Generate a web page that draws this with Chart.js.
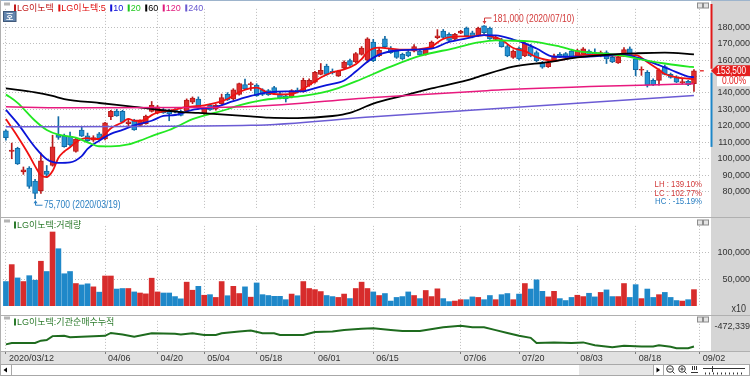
<!DOCTYPE html>
<html>
<head>
<meta charset="utf-8">
<title>LG이노텍</title>
<script src="https://cdn.jsdelivr.net/npm/chart.js@4.4.1/dist/chart.umd.min.js"></script>
<style>
  html, body { margin: 0; padding: 0; background: #fff; }
  body { width: 750px; height: 376px; position: relative; overflow: hidden; }
  canvas { position: absolute; left: 0; }
  #priceChart { top: 0; }
  #volChart { top: 217px; }
  #instChart { top: 315px; }
</style>
</head>
<body>
<canvas id="priceChart" width="750" height="217"></canvas>
<canvas id="volChart" width="750" height="98"></canvas>
<canvas id="instChart" width="750" height="61"></canvas>
<script>
// trading days shown (last slot 09/02 has no candle yet)
const dates = [
  '03/12','03/13','03/16','03/17','03/18','03/19','03/20','03/23','03/24','03/25','03/26','03/27','03/30','03/31',
  '04/01','04/02','04/03','04/06','04/07','04/08','04/09','04/10','04/13','04/14','04/16','04/17','04/20','04/21','04/22','04/23','04/24','04/27','04/28','04/29',
  '05/04','05/06','05/07','05/08','05/11','05/12','05/13','05/14','05/15','05/18','05/19','05/20','05/21','05/22','05/25','05/26','05/27','05/28','05/29',
  '06/01','06/02','06/03','06/04','06/05','06/08','06/09','06/10','06/11','06/12','06/15','06/16','06/17','06/18','06/19','06/22','06/23','06/24','06/25','06/26','06/29','06/30',
  '07/01','07/02','07/03','07/06','07/07','07/08','07/09','07/10','07/13','07/14','07/15','07/16','07/17','07/20','07/21','07/22','07/23','07/24','07/27','07/28','07/29','07/30','07/31',
  '08/03','08/04','08/05','08/06','08/07','08/10','08/11','08/12','08/13','08/14','08/18','08/19','08/20','08/21','08/24','08/25','08/26','08/27','08/28','08/31',
  '09/01','09/02'
];

const openP = [117000,104500,106300,92000,94400,86500,80600,92500,96000,114600,
  113800,113600,104400,117500,113900,111300,115100,112000,125600,129000,
  128800,121400,123100,120300,121300,128800,127900,129700,129600,129400,
  128800,129300,134400,136300,127500,132500,130100,133500,139100,136300,
  139100,145100,145000,144800,141900,141400,143200,139500,138200,137600,
  141800,141000,144800,146600,151300,156400,153200,150400,155100,159700,
  158800,163500,160000,171000,162600,172900,167300,165400,163500,165000,
  165400,165400,163500,167300,173600,177600,175700,172700,176300,179400,
  176600,174800,180800,179400,172500,172000,168200,161600,167300,162500,
  168200,164500,158300,156000,159700,163500,163900,165400,162500,163500,
  165400,164700,162500,164500,161600,158300,162500,166900,160700,153800,
  152600,147600,147600,156000,151300,149400,146300,147000,145700];
const highP = [117600,109500,107000,95000,95200,87500,103500,95900,114300,125600,
  115000,116200,112500,119200,115600,114000,116000,122200,129400,130000,
  129500,124300,124000,123600,126500,134800,132400,130600,130100,130500,
  129600,136400,137600,137600,131400,133200,133000,139300,140200,142600,
  146000,148500,146600,145600,142600,142100,144100,140500,138800,142000,
  143000,149000,148600,153200,157900,157500,154600,153800,159600,160600,
  164600,168200,173600,172600,167200,174400,168200,166200,164200,165800,
  169400,166000,166800,171600,178500,178600,176600,176200,178100,180100,
  177600,180000,181000,180100,174600,173200,169000,166200,168000,171000,
  169600,165600,159200,159500,163600,164600,164600,166600,166600,167600,
  166200,166900,165500,165600,162600,162200,167600,168000,161600,155900,
  153600,148600,154600,157000,152100,150500,148500,147600,154200];
const lowP = [111300,100000,96500,90500,82000,75700,79000,88500,95500,111800,
  107000,107600,104000,113500,110400,110500,111800,111500,123800,125800,
  121800,119400,117300,119600,121000,128400,127400,127600,123100,127900,
  126000,128900,133500,130400,127000,129400,129500,133000,135400,135900,
  138600,142000,141500,138000,138400,138500,139500,136400,134500,137000,
  140000,140500,144000,146000,151000,150800,151500,150000,154500,156300,
  158400,163000,158600,159000,162000,167600,164000,161000,160300,162000,
  165000,162600,163000,167000,172900,173400,171500,172000,176000,174500,
  173500,174400,176000,172500,172000,167800,162000,161000,160000,162000,
  162000,159000,155000,155500,159000,161400,161000,161000,162000,163000,
  162600,162500,162000,157900,158400,158000,162000,162000,150400,150700,
  143600,144500,144800,151000,149000,146300,145500,144500,141000];
const closeP = [112800,105200,96900,93300,83200,79000,98800,90500,107200,113000,
  107300,108400,111900,113800,111000,112800,112300,121800,128800,126100,
  122200,122400,117600,123100,126000,132500,131600,127900,127200,128500,
  126400,135700,136900,130700,130700,129700,132500,137200,135700,141900,
  145700,142500,145700,138200,139100,139000,140000,136900,136300,141400,
  140600,147600,147600,152600,153800,151300,152300,153200,158800,156900,
  163900,167300,172900,159700,166000,168200,164500,161600,160700,162500,
  168200,163100,166300,171000,174800,173800,172000,175600,177600,174800,
  174000,179400,176600,172900,173800,168200,162500,165400,160700,170100,
  162500,159700,155600,158300,162500,161600,161600,161600,165800,166900,
  163100,163900,164500,160700,158800,161600,166300,162500,154100,154300,
  144800,145100,154100,151300,149400,146600,146700,145100,153500];

// volume, shown in units of x10 shares
const volume = [45900,77600,52700,45900,56900,48400,83900,64700,138600,107300,
  60500,64700,42200,39600,41700,36000,26100,56300,56300,31900,
  32900,32900,26500,24500,22900,52200,26500,24500,24500,17800,
  13600,44800,29700,37000,20300,21400,16200,45900,19400,37000,
  23500,36000,16700,43300,21400,19800,18300,18300,12000,22500,
  19400,45900,32900,30800,27200,19800,17800,16200,22500,14100,
  32900,44800,32900,26500,19800,23500,9400,16200,17800,26500,
  19800,14000,29200,17800,32300,14000,8400,9400,12000,12000,
  17200,16200,12000,19800,12000,21400,23500,12000,22500,42200,
  31900,49100,27600,17200,27600,14000,10400,16200,20300,17800,
  24000,17200,25600,30300,17800,17800,42200,16200,40100,14000,
  31900,16200,21400,25600,16200,10400,9400,12000,30800];

// moving averages: [day index, value]
const ma5 = [[0,124100],[2,113500],[4,102000],[5,95500],[6,90000],[7,88800],[8,92500],[9,100500],[10,104400],
  [11,107000],[12,110000],[13,112000],[14,112500],[15,112000],[16,112000],[17,115000],[18,118500],[19,120500],
  [20,122200],[21,124300],[22,123100],[23,123100],[24,124100],[25,126500],[26,128000],[27,128800],[28,129200],
  [29,129800],[31,131500],[34,132500],[36,133900],[38,136300],[40,140600],[42,143000],[43,143200],[45,140000],
  [47,139100],[49,139400],[51,142500],[52,144800],[54,149400],[56,152600],[58,154300],[60,157500],[61,160500],
  [62,165000],[64,167500],[66,167000],[68,166300],[70,166300],[72,167300],[73,168200],[75,172900],[78,174400],
  [80,174400],[82,175200],[84,173500],[85,172300],[87,167300],[89,165400],[91,161800],[94,159700],[96,160700],
  [99,163100],[102,163100],[105,162500],[108,163000],[110,158800],[112,154000],[113,151500],[115,149500],
  [116,149000],[118,148400]];
const ma10 = [[0,129700],[2,121500],[5,107000],[7,99700],[9,97500],[11,97800],[13,101600],[14,106000],[16,111000],
  [18,115100],[20,117500],[22,120300],[25,123100],[27,126000],[29,126600],[32,129700],[36,131600],[39,135000],
  [42,138200],[45,140400],[48,141000],[51,141000],[52,141900],[55,144800],[58,147600],[60,153000],[62,159000],
  [64,163300],[67,165800],[70,166300],[73,166900],[76,171000],[79,173200],[82,175200],[84,175000],[87,172500],
  [89,170100],[91,167000],[94,162000],[98,162000],[102,162500],[106,163100],[109,160700],[112,156900],
  [114,154100],[117,150000],[118,149600]];
const ma20 = [[0,139100],[2,134000],[5,123100],[7,117500],[9,114700],[12,112800],[14,110000],[16,107600],
  [18,107500],[21,108700],[23,111000],[25,113800],[28,117500],[30,120700],[32,124100],[38,130100],[40,132500],
  [44,135700],[47,136900],[51,138200],[54,140000],[57,143000],[60,147000],[66,156000],[71,162500],[77,167300],
  [81,170700],[84,172000],[86,171800],[90,171400],[95,168200],[98,165400],[103,163900],[106,162500],
  [110,159700],[113,157900],[117,156000],[118,155700]];
const ma60 = [[0,142800],[5,140400],[8,138200],[10,136300],[16,133900],[22,131600],[30,128400],[33,127900],
  [42,125800],[45,125000],[50,124700],[56,126000],[59,127900],[63,133500],[68,138200],[73,142800],[79,147600],
  [81,149800],[87,156000],[93,158800],[98,161600],[104,163500],[108,164100],[113,164500],[118,163400]];
const ma120 = [[0,131600],[10,131000],[30,131100],[42,131700],[63,137200],[81,141000],[85,141900],[118,145600]];
const ma240 = [[0,119400],[42,120300],[63,125500],[85,130700],[118,138400]];

// institutional net buying, cumulative (shares)
const instCum = [[0,-727900],[1,-708700],[5,-708700],[6,-676300],[7,-668000],[8,-612700],[10,-608000],
  [11,-628300],[14,-616300],[17,-608000],[18,-568300],[20,-588700],[22,-620000],[25,-574300],[29,-580300],
  [30,-588700],[32,-571900],[34,-596000],[36,-596000],[37,-571900],[40,-548000],[42,-536000],[44,-571900],
  [46,-571900],[47,-596000],[51,-596000],[53,-556300],[56,-548000],[58,-528700],[61,-508300],[63,-502300],
  [66,-526300],[68,-540700],[71,-540700],[75,-487900],[78,-468700],[80,-487900],[82,-487900],[84,-528700],
  [86,-568300],[88,-608000],[90,-636700],[91,-708700],[94,-700300],[97,-708700],[99,-700300],[101,-740000],
  [104,-768700],[106,-748300],[109,-756700],[111,-756700],[112,-740000],[114,-760300],[115,-780700],
  [117,-780700],[118,-756700]];

const tickLabels = ['2020/03/12','04/06','04/20','05/04','05/18','06/01','06/15','07/06','07/20','08/03','08/18','09/02'];
const priceTicks = [80000,90000,100000,110000,120000,130000,140000,150000,160000,170000,180000];
const volTicks = [50000,100000];
const instTicks = [-472339];
const changePct = '0.00%';
const axisBandLow = 107200;

const SANS = "'Liberation Sans',Arial,sans-serif";
const LEGEND_FONT = "'Liberation Sans','Noto Sans CJK KR',sans-serif";
const GRID = '#bdbdbd';
const AXIS_BG = '#d5d5d5';
const UP = '#e02c2c', UP_EDGE = '#b81b1b', DN = '#2592d3', DN_EDGE = '#136ba5';

const tickIdx = tickLabels.map(t => dates.indexOf(t.slice(-5)));
const fmt = v => v.toLocaleString('en-US');
const isUp = closeP.map((c, i) => c >= openP[i]);
const days = closeP.map((_, i) => i);
const pairs = arr => arr.map(([x, y]) => ({ x, y }));

function xAxis(showLabels) {
  return {
    type: 'linear', min: -0.5, max: 120.75, offset: false,
    afterBuildTicks: s => { s.ticks = tickIdx.map(v => ({ value: v })); },
    afterFit: s => { s.height = showLabels ? 13 : 0; },
    grid: { color: GRID, offset: false, drawTicks: showLabels, tickLength: 3, tickColor: '#7a7a7a', tickBorderDash: [] },
    border: { display: false, dash: [1, 2] },
    ticks: {
      display: showLabels, autoSkip: false, maxRotation: 0, align: 'start', labelOffset: 3, padding: 0,
      color: '#333', font: { family: SANS, size: 9, lineHeight: 1 },
      callback: v => tickLabels[tickIdx.indexOf(v)]
    }
  };
}

function yAxis(min, max, ticks, pad, showGrid) {
  return {
    position: 'right', min, max,
    afterBuildTicks: s => { s.ticks = ticks.map(v => ({ value: v })); },
    afterFit: s => { s.width = 40; },
    grid: { display: showGrid !== false, color: GRID, drawTicks: false },
    border: { display: false, dash: [1, 2] },
    ticks: { crossAlign: 'far', padding: pad, color: '#333', font: { family: SANS, size: 9 }, callback: v => fmt(v) }
  };
}

function baseOptions(x, y, padding) {
  return {
    responsive: false, animation: false, events: [],
    layout: { padding },
    plugins: { legend: { display: false }, tooltip: { enabled: false } },
    scales: { x, y }
  };
}

// condensed text, like the narrow HTS font
function narrowText(ctx, text, x, y, align, size, squeeze) {
  ctx.save();
  ctx.font = `${size}px ${SANS}`;
  ctx.textAlign = align;
  ctx.textBaseline = 'middle';
  ctx.translate(x, y);
  ctx.scale(squeeze, 1);
  ctx.fillText(text, 0, 0);
  ctx.restore();
}

function drawLegend(ctx, items, x0, y) {
  let xx = x0;
  ctx.font = `9px ${LEGEND_FONT}`;
  ctx.textAlign = 'left';
  ctx.textBaseline = 'middle';
  items.forEach(it => {
    ctx.fillStyle = it.color;
    ctx.fillRect(xx, y - 3.5, 2, 7);
    ctx.fillText(it.text, xx + 3, y + 0.5);
    xx += 3 + ctx.measureText(it.text).width + 4.5;
  });
}

function drawPanelIcons(ctx, y) {
  [697.5, 703.5].forEach(bx => {
    ctx.fillStyle = '#e4e4e4';
    ctx.fillRect(bx, y, 5, 5);
    ctx.strokeStyle = '#8c8c8c';
    ctx.lineWidth = 1;
    ctx.strokeRect(bx, y, 5, 5);
  });
  ctx.fillStyle = '#b4b4b4';
  ctx.fillRect(4, y - 0.5, 6, 3);
}

function lineSet(data, color, width, order) {
  return {
    type: 'line', data: pairs(data), borderColor: color, borderWidth: width,
    pointRadius: 0, cubicInterpolationMode: 'monotone', fill: false, order
  };
}

const priceDecor = {
  id: 'priceDecor',
  beforeDraw(chart) {
    const { ctx, chartArea: a } = chart;
    ctx.save();
    ctx.fillStyle = AXIS_BG;
    ctx.fillRect(a.right + 1, 0, chart.width - a.right, chart.height);
    ctx.restore();
  },
  afterDraw(chart) {
    const { ctx, chartArea: a, scales: { x, y } } = chart;
    ctx.save();
    ctx.lineWidth = 1;
    ctx.strokeStyle = '#9db4cc';
    ctx.beginPath(); ctx.moveTo(0, 0.5); ctx.lineTo(chart.width, 0.5); ctx.stroke();
    ctx.strokeStyle = '#b0b0b0';
    ctx.beginPath(); ctx.moveTo(0.5, 0); ctx.lineTo(0.5, chart.height); ctx.stroke();

    drawPanelIcons(ctx, 3);
    drawLegend(ctx, [
      { text: 'LG이노텍', color: '#c01818' },
      { text: 'LG이노텍:5', color: '#e01010' },
      { text: '10', color: '#1010d8' },
      { text: '20', color: '#1fc81f' },
      { text: '60', color: '#000000' },
      { text: '120', color: '#e01a7c' },
      { text: '240', color: '#6a5ad0' }
    ], 14, 8);

    // "호" box
    ctx.fillStyle = '#6385ad';
    ctx.fillRect(3.5, 11.5, 12.5, 10);
    ctx.strokeStyle = '#40597a';
    ctx.strokeRect(3.5, 11.5, 12.5, 10);
    ctx.fillStyle = '#fff';
    ctx.font = "bold 8px 'Noto Sans CJK KR',sans-serif";
    ctx.textAlign = 'center';
    ctx.textBaseline = 'middle';
    ctx.fillText('호', 9.8, 16.8);

    // highest / lowest marks
    const hi = Math.max(...highP), hiIdx = highP.indexOf(hi);
    const lo = Math.min(...lowP), loIdx = lowP.indexOf(lo);
    const hx = Math.round(x.getPixelForValue(hiIdx)) + 0.5, hy = y.getPixelForValue(hi);
    const lx = Math.round(x.getPixelForValue(loIdx)) + 0.5, ly = y.getPixelForValue(lo);
    ctx.lineWidth = 1;
    ctx.strokeStyle = ctx.fillStyle = '#d23a3a';
    ctx.beginPath(); ctx.moveTo(hx, hy - 2); ctx.lineTo(hx, hy - 7.5); ctx.lineTo(hx + 7, hy - 7.5); ctx.stroke();
    ctx.beginPath(); ctx.moveTo(hx - 2, hy - 4.5); ctx.lineTo(hx + 2, hy - 4.5); ctx.lineTo(hx, hy - 1.5); ctx.fill();
    narrowText(ctx, `${fmt(hi)} (2020/${dates[hiIdx]})`, hx + 8.5, hy - 6.5, 'left', 10, 0.85);
    ctx.strokeStyle = ctx.fillStyle = '#2a7fc2';
    ctx.beginPath(); ctx.moveTo(lx, ly + 2); ctx.lineTo(lx, ly + 6.5); ctx.lineTo(lx + 7, ly + 6.5); ctx.stroke();
    ctx.beginPath(); ctx.moveTo(lx - 2, ly + 4.5); ctx.lineTo(lx + 2, ly + 4.5); ctx.lineTo(lx, ly + 1.5); ctx.fill();
    narrowText(ctx, `${fmt(lo)} (2020/${dates[loIdx]})`, lx + 8.5, ly + 6.5, 'left', 10, 0.85);

    // LH / LC / HC
    const last = closeP[closeP.length - 1];
    const pct = v => v.toFixed(2) + '%';
    ctx.fillStyle = '#d23a3a';
    narrowText(ctx, 'LH : ' + pct((hi - lo) / lo * 100), a.right - 8, 185, 'right', 9, 0.87);
    narrowText(ctx, 'LC : ' + pct((last - lo) / lo * 100), a.right - 8, 193.3, 'right', 9, 0.87);
    ctx.fillStyle = '#2a7fc2';
    narrowText(ctx, 'HC : ' + pct((last - hi) / hi * 100), a.right - 8, 201.8, 'right', 9, 0.87);

    // price axis band and current price box
    const py = y.getPixelForValue(last);
    const ax = a.right + 1.5;
    ctx.lineWidth = 2;
    ctx.strokeStyle = '#e01818';
    ctx.beginPath(); ctx.moveTo(ax, 4); ctx.lineTo(ax, py - 2); ctx.stroke();
    ctx.strokeStyle = '#1d86c8';
    ctx.beginPath(); ctx.moveTo(ax, py + 2); ctx.lineTo(ax, y.getPixelForValue(axisBandLow)); ctx.stroke();
    ctx.fillStyle = '#e41e1e';
    ctx.fillRect(x.getPixelForValue(dates.length - 1), py - 0.6, 4, 1.3);
    ctx.beginPath();
    ctx.moveTo(a.right + 1, py); ctx.lineTo(a.right + 7, py - 5.5); ctx.lineTo(chart.width, py - 5.5);
    ctx.lineTo(chart.width, py + 5.5); ctx.lineTo(a.right + 7, py + 5.5); ctx.closePath(); ctx.fill();
    ctx.fillStyle = '#fff';
    ctx.fillRect(a.right + 7, py + 5.5, chart.width - a.right - 7, 10);
    narrowText(ctx, fmt(last), 746, py + 0.5, 'right', 10, 0.82);
    ctx.fillStyle = '#e41e1e';
    narrowText(ctx, changePct, 746, py + 10.5, 'right', 10, 0.85);
    ctx.restore();
  }
};

const volDecor = {
  id: 'volDecor',
  beforeDraw(chart) {
    const { ctx, chartArea: a } = chart;
    ctx.save();
    ctx.fillStyle = AXIS_BG;
    ctx.fillRect(a.right + 1, 0, chart.width - a.right, chart.height);
    ctx.restore();
  },
  afterDraw(chart) {
    const { ctx } = chart;
    ctx.save();
    ctx.strokeStyle = '#b0b0b0';
    ctx.lineWidth = 1;
    ctx.beginPath(); ctx.moveTo(0, 0.5); ctx.lineTo(chart.width, 0.5); ctx.stroke();
    ctx.beginPath(); ctx.moveTo(0.5, 0); ctx.lineTo(0.5, chart.height); ctx.stroke();
    drawPanelIcons(ctx, 3);
    drawLegend(ctx, [{ text: 'LG이노텍:거래량', color: '#2b7a2b' }], 14, 8);
    ctx.fillStyle = '#333';
    narrowText(ctx, 'x10', 746, 92, 'right', 10, 0.9);
    ctx.restore();
  }
};

const instDecor = {
  id: 'instDecor',
  beforeDraw(chart) {
    const { ctx, chartArea: a } = chart;
    ctx.save();
    ctx.fillStyle = AXIS_BG;
    ctx.fillRect(a.right + 1, 0, chart.width - a.right, a.bottom);
    ctx.fillStyle = '#e1e1e1';
    ctx.fillRect(0, a.bottom, chart.width, 13);
    ctx.restore();
  },
  afterDraw(chart) {
    const { ctx, chartArea: a } = chart;
    const w = chart.width;
    const fy = a.bottom + 13;
    ctx.save();
    ctx.strokeStyle = '#b0b0b0';
    ctx.lineWidth = 1;
    ctx.beginPath(); ctx.moveTo(0, 0.5); ctx.lineTo(w, 0.5); ctx.stroke();
    ctx.beginPath(); ctx.moveTo(0.5, 0); ctx.lineTo(0.5, fy); ctx.stroke();
    ctx.beginPath(); ctx.moveTo(0, a.bottom + 0.5); ctx.lineTo(w, a.bottom + 0.5); ctx.stroke();
    drawPanelIcons(ctx, 2);
    drawLegend(ctx, [{ text: 'LG이노텍:기관순매수누적', color: '#2b7a2b' }], 14, 7);

    // bottom scroll strip
    ctx.fillStyle = '#fff';
    ctx.fillRect(0, fy, w, chart.height - fy);
    ctx.strokeStyle = '#a8a8a8';
    ctx.strokeRect(0.5, fy + 0.5, w - 1, chart.height - fy - 1);
    ctx.strokeRect(0.5, fy + 0.5, 11, chart.height - fy - 1);
    ctx.fillStyle = '#e6e6e6';
    ctx.fillRect(579, fy + 1, 74, chart.height - fy - 2);
    ctx.strokeRect(653.5, fy + 0.5, 10, chart.height - fy - 1);
    ctx.fillStyle = '#000';
    ctx.beginPath(); ctx.moveTo(3.5, fy + 6); ctx.lineTo(7, fy + 3.5); ctx.lineTo(7, fy + 8.5); ctx.fill();
    ctx.beginPath(); ctx.moveTo(660, fy + 6); ctx.lineTo(656.5, fy + 3.5); ctx.lineTo(656.5, fy + 8.5); ctx.fill();
    ctx.strokeStyle = '#333';
    [[670, '-'], [682, '+']].forEach(([cx, s]) => {
      ctx.beginPath(); ctx.arc(cx, fy + 5, 3.3, 0, Math.PI * 2); ctx.stroke();
      ctx.beginPath(); ctx.moveTo(cx + 2.3, fy + 7.3); ctx.lineTo(cx + 4.5, fy + 9.5); ctx.stroke();
      ctx.beginPath(); ctx.moveTo(cx - 1.7, fy + 5); ctx.lineTo(cx + 1.7, fy + 5);
      if (s === '+') { ctx.moveTo(cx, fy + 3.3); ctx.lineTo(cx, fy + 6.7); }
      ctx.stroke();
    });
    for (let k = 0; k < 3; k++) {
      ctx.beginPath(); ctx.moveTo(692.5 + k * 2, fy + 2); ctx.lineTo(692.5 + k * 2, fy + 6); ctx.stroke();
    }
    ctx.beginPath(); ctx.moveTo(691, fy + 8.5); ctx.lineTo(698, fy + 8.5); ctx.stroke();
    ctx.beginPath(); ctx.moveTo(703, fy + 4.5); ctx.lineTo(745, fy + 4.5); ctx.stroke();
    ctx.beginPath(); ctx.moveTo(712.5, fy + 2); ctx.lineTo(712.5, fy + 8); ctx.stroke();
    for (let k = 0; k < 10; k++) {
      ctx.beginPath(); ctx.moveTo(705.5 + k * 4, fy + 8.5); ctx.lineTo(705.5 + k * 4, fy + 10.5); ctx.stroke();
    }
    ctx.restore();
  }
};

new Chart(document.getElementById('priceChart'), {
  type: 'bar',
  data: {
    datasets: [
      lineSet(ma240, '#6b5bd4', 1.5, 0),
      lineSet(ma120, '#e8197e', 1.5, 0),
      lineSet(ma60, '#000000', 1.8, 0),
      lineSet(ma20, '#22e822', 1.8, 0),
      lineSet(ma10, '#0a14d8', 1.8, 0),
      lineSet(ma5, '#f01010', 1.8, 0),
      {
        type: 'bar', data: days.map(i => ({ x: i, y: [openP[i], closeP[i]] })),
        backgroundColor: isUp.map(u => u ? UP : DN), borderColor: isUp.map(u => u ? UP_EDGE : DN_EDGE),
        borderWidth: 1, borderSkipped: false, barThickness: 5, minBarLength: 1, grouped: false, order: 2
      },
      {
        type: 'bar', data: days.map(i => ({ x: i, y: [lowP[i], highP[i]] })),
        backgroundColor: isUp.map(u => u ? UP_EDGE : DN_EDGE),
        borderWidth: 0, barThickness: 1, grouped: false, order: 3
      }
    ]
  },
  options: baseOptions(xAxis(false), yAxis(70000, 191100, priceTicks, 3.5), { left: 3, right: 0, top: 1, bottom: 1 }),
  plugins: [priceDecor]
});

new Chart(document.getElementById('volChart'), {
  type: 'bar',
  data: {
    datasets: [{
      data: days.map(i => ({ x: i, y: volume[i] })),
      backgroundColor: isUp.map(u => u ? '#d72c2c' : '#1f88c9'),
      borderWidth: 0, barThickness: 5, grouped: false
    }]
  },
  options: baseOptions(xAxis(false), yAxis(0, 150000, volTicks, 3.5), { left: 3, right: 0, top: 1, bottom: 1 }),
  plugins: [volDecor]
});

new Chart(document.getElementById('instChart'), {
  type: 'line',
  data: {
    datasets: [{
      data: pairs(instCum), borderColor: '#1e6b1e', borderWidth: 2, pointRadius: 0, tension: 0, fill: false
    }]
  },
  options: baseOptions(xAxis(true), yAxis(-820339, -400339, instTicks, 0.5, false),
    { left: 3, right: 0, top: 1, bottom: 12 }),
  plugins: [instDecor]
});
</script>
</body>
</html>
